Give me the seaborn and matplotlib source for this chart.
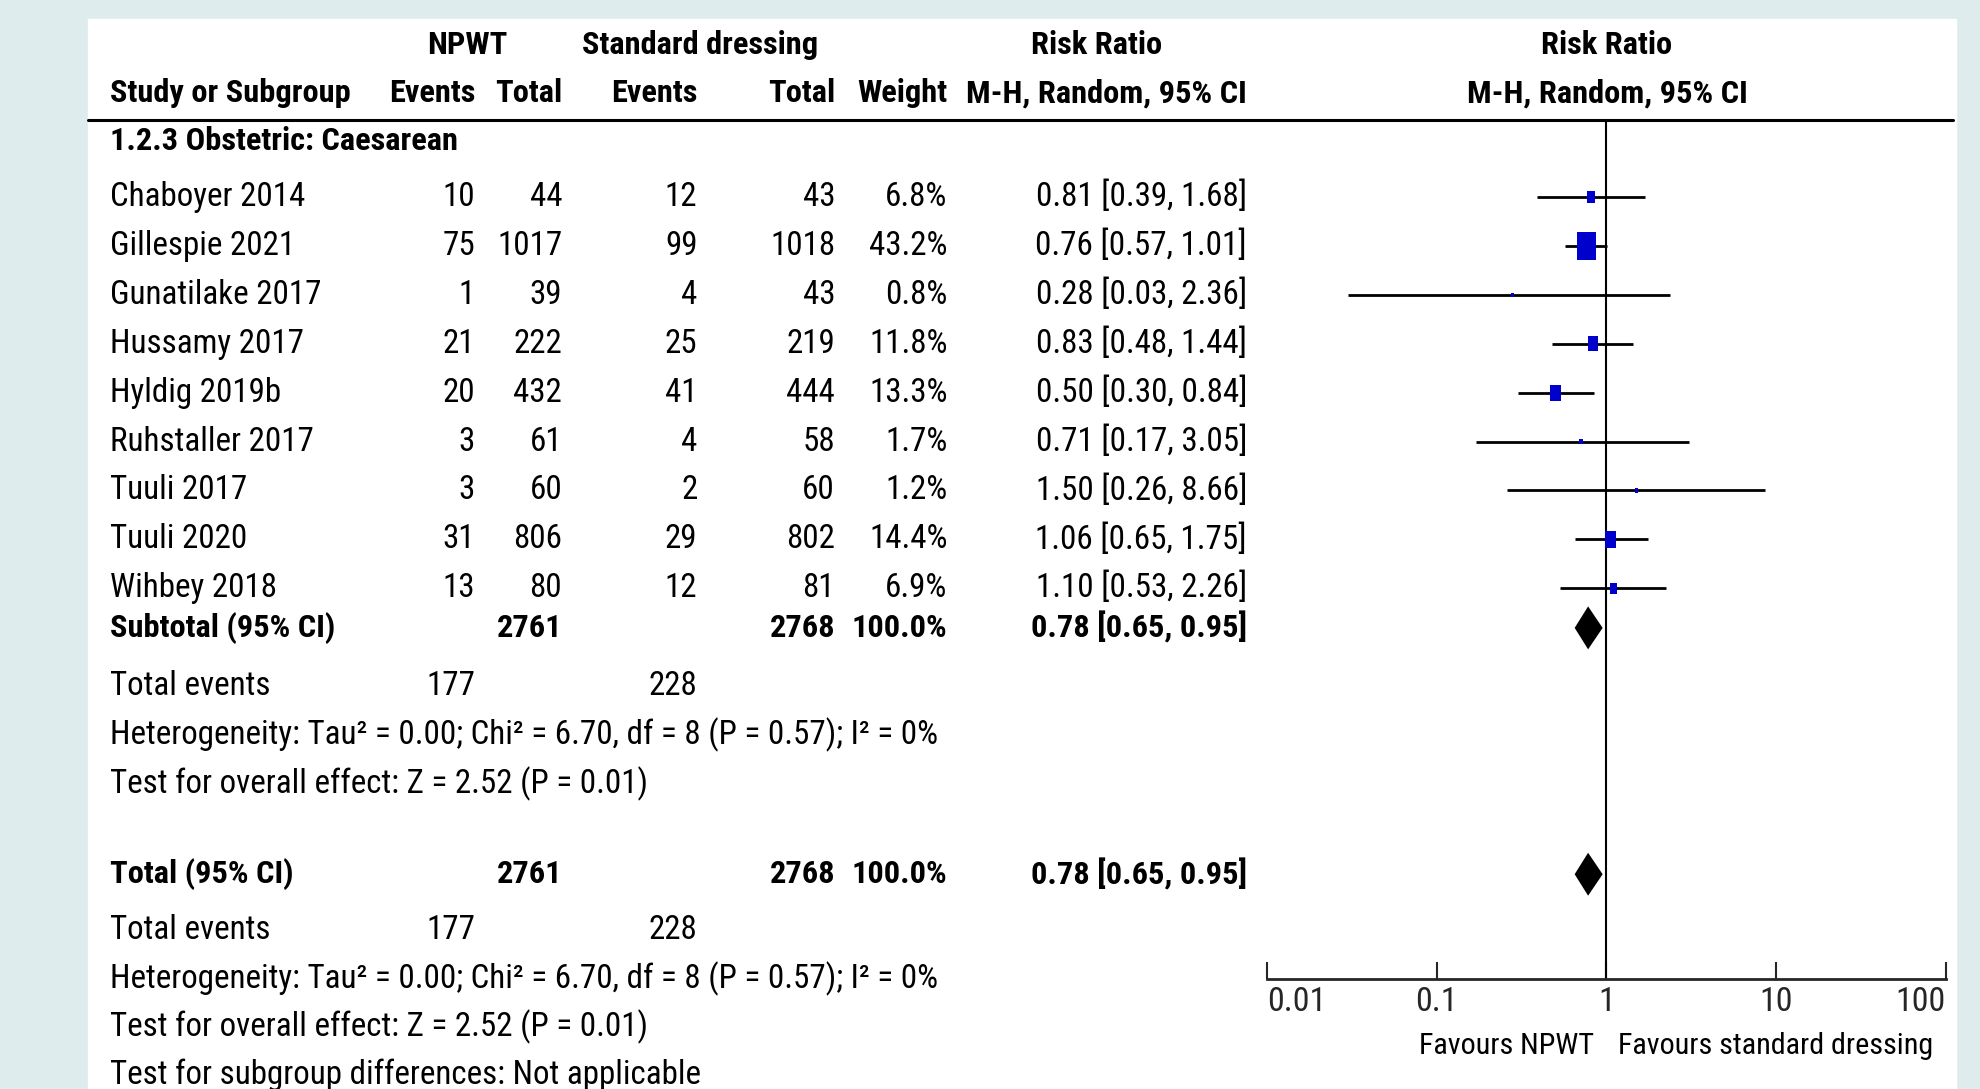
import numpy as np
import matplotlib
matplotlib.use("Agg")
import matplotlib.pyplot as plt
from matplotlib import font_manager
from matplotlib.path import Path
import seaborn as sns

# data
studies = ["Chaboyer 2014", "Gillespie 2021", "Gunatilake 2017", "Hussamy 2017", "Hyldig 2019b",
           "Ruhstaller 2017", "Tuuli 2017", "Tuuli 2020", "Wihbey 2018"]
npwt_events = [10, 75, 1, 21, 20, 3, 3, 31, 13]
npwt_total = [44, 1017, 39, 222, 432, 61, 60, 806, 80]
std_events = [12, 99, 4, 25, 41, 4, 2, 29, 12]
std_total = [43, 1018, 43, 219, 444, 58, 60, 802, 81]
weights = [6.8, 43.2, 0.8, 11.8, 13.3, 1.7, 1.2, 14.4, 6.9]
rr = [0.81, 0.76, 0.28, 0.83, 0.50, 0.71, 1.50, 1.06, 1.10]
rr_lo = [0.39, 0.57, 0.03, 0.48, 0.30, 0.17, 0.26, 0.65, 0.53]
rr_hi = [1.68, 1.01, 2.36, 1.44, 0.84, 3.05, 8.66, 1.75, 2.26]
pooled = [0.78, 0.65, 0.95]
pooled_n = [2761, 2768]
total_events = [177, 228]
het_text = "Heterogeneity: Tau\u00b2 = 0.00; Chi\u00b2 = 6.70, df = 8 (P = 0.57); I\u00b2 = 0%"
effect_text = "Test for overall effect: Z = 2.52 (P = 0.01)"
subgroup_text = "Test for subgroup differences: Not applicable"
ticks = [0.01, 0.1, 1, 10, 100]
tick_labels = ["0.01", "0.1", "1", "10", "100"]

sns.set_style("white")

# pick the narrowest sans available
entries = font_manager.fontManager.ttflist
FONT, STRETCH = "Liberation Sans", "normal"
for name, st in [("Liberation Sans Narrow", "normal"), ("Roboto Condensed", "normal"),
                 ("DejaVu Sans", "condensed"), ("Liberation Sans", "normal")]:
    if any(f.name == name and (st == "normal" or f.stretch == st) for f in entries):
        FONT, STRETCH = name, st
        break
plt.rcParams["font.family"] = [FONT, "DejaVu Sans"]

W, H = 1568, 862   # layout grid (reference drawn at 0.79 scale)
PX = 1981 / W
BG = "#dfeced"
fig = plt.figure(figsize=(19.81, 10.89), dpi=100, facecolor=BG)
renderer = fig.canvas.get_renderer()


def fit_size(s, target, bold=False):
    tmp = fig.text(0, 0, s, fontsize=20, fontweight="bold" if bold else "normal",
                   fontstretch=STRETCH)
    w = tmp.get_window_extent(renderer).width
    tmp.remove()
    return 20 * target * PX / w


FS = fit_size(het_text, 654)
FSB = fit_size("Study or Subgroup", 190, True)
FST = fit_size("Favours standard dressing", 249)
FSK = fit_size("0.01", 47)

ax = fig.add_axes([0, 0, 1, 1])
ax.set_xlim(0, W)
ax.set_ylim(H, 0)
ax.axis("off")
ax.add_patch(plt.Rectangle((70, 15), 1478, 900, color="white", zorder=0))


def t(x, y, s, ha="left", bold=False, size=None):
    if size is None:
        size = FSB if bold else FS
    ax.text(x, y, s, ha=ha, va="center", fontsize=size, fontstretch=STRETCH,
            fontweight="bold" if bold else "normal", color="black")


# header
t(370, 36, "NPWT", "center", True)
t(554, 36, "Standard dressing", "center", True)
t(868, 36, "Risk Ratio", "center", True)
t(1272, 36, "Risk Ratio", "center", True)
t(87, 74, "Study or Subgroup", bold=True)
t(376, 74, "Events", "right", True)
t(445, 74, "Total", "right", True)
t(552, 74, "Events", "right", True)
t(661, 74, "Total", "right", True)
t(750, 74, "Weight", "right", True)
t(987, 74, "M-H, Random, 95% CI", "right", True)
t(1272, 74, "M-H, Random, 95% CI", "center", True)
ax.plot([70, 1546], [95, 95], color="black", lw=2.2)
t(87, 112, "1.2.3 Obstetric: Caesarean", bold=True)

rows = 156 + 38.7 * np.arange(len(studies))
for i, y in enumerate(rows):
    t(87, y, studies[i])
    t(376, y, str(npwt_events[i]), "right")
    t(445, y, str(npwt_total[i]), "right")
    t(552, y, str(std_events[i]), "right")
    t(661, y, str(std_total[i]), "right")
    t(750, y, f"{weights[i]:.1f}%", "right")
    t(987, y, f"{rr[i]:.2f} [{rr_lo[i]:.2f}, {rr_hi[i]:.2f}]", "right")

pooled_str = f"{pooled[0]:.2f} [{pooled[1]:.2f}, {pooled[2]:.2f}]"
sub_y, tot_y = 497, 692
for y, label, ev_y in [(sub_y, "Subtotal (95% CI)", 543), (tot_y, "Total (95% CI)", 736)]:
    t(87, y, label, bold=True)
    t(445, y, str(pooled_n[0]), "right", True)
    t(661, y, str(pooled_n[1]), "right", True)
    t(750, y, "100.0%", "right", True)
    t(987, y, pooled_str, "right", True)
    t(87, ev_y, "Total events")
    t(376, ev_y, str(total_events[0]), "right")
    t(552, ev_y, str(total_events[1]), "right")
    t(87, ev_y + 38.5, het_text)
    t(87, ev_y + 77, effect_text)
t(87, 851, subgroup_text)

# forest panel
AX_L, AX_R, AX_T, AX_B = 1003, 1540, 95, 775
fax = fig.add_axes([AX_L / W, 1 - AX_B / H, (AX_R - AX_L) / W, (AX_B - AX_T) / H])
fax.set_facecolor("none")
fax.set_xscale("log")
fax.set_xlim(0.01, 100)
fax.set_ylim(AX_B, AX_T)
for s in ["top", "left", "right"]:
    fax.spines[s].set_visible(False)
fax.spines["bottom"].set_linewidth(2)
fax.set_yticks([])
fax.set_xticks(ticks)
fax.set_xticklabels(tick_labels, fontstretch=STRETCH)
fax.minorticks_off()
fax.tick_params(axis="x", bottom=True, direction="in", length=12, width=1.5, pad=5,
                labelsize=FSK)
labs = fax.get_xticklabels()
labs[0].set_ha("left")
labs[-1].set_ha("right")
fax.axvline(1, color="black", lw=1.5, zorder=1)

fax.hlines(rows, rr_lo, rr_hi, color="black", lw=2, zorder=2)
box = Path([(-1, -1.5), (1, -1.5), (1, 1.5), (-1, 1.5), (-1, -1.5)],
           [Path.MOVETO, Path.LINETO, Path.LINETO, Path.LINETO, Path.CLOSEPOLY])
sns.scatterplot(x=rr, y=rows, size=weights, sizes=(0, 420), size_norm=(0, 43.2),
                marker=box, color="#0000cc", linewidth=0, legend=False, ax=fax, zorder=3)
dh = 17
for y in [sub_y, tot_y]:
    fax.fill([pooled[1], pooled[0], pooled[2], pooled[0]], [y, y - dh, y, y + dh],
             color="black", lw=0, zorder=3)
fax.set_xlabel("")
fax.set_ylabel("")

t(1262, 828, "Favours NPWT", "right", size=FST)
t(1281, 828, "Favours standard dressing", "left", size=FST)

fig.savefig("out.png", dpi=100, facecolor=BG)
